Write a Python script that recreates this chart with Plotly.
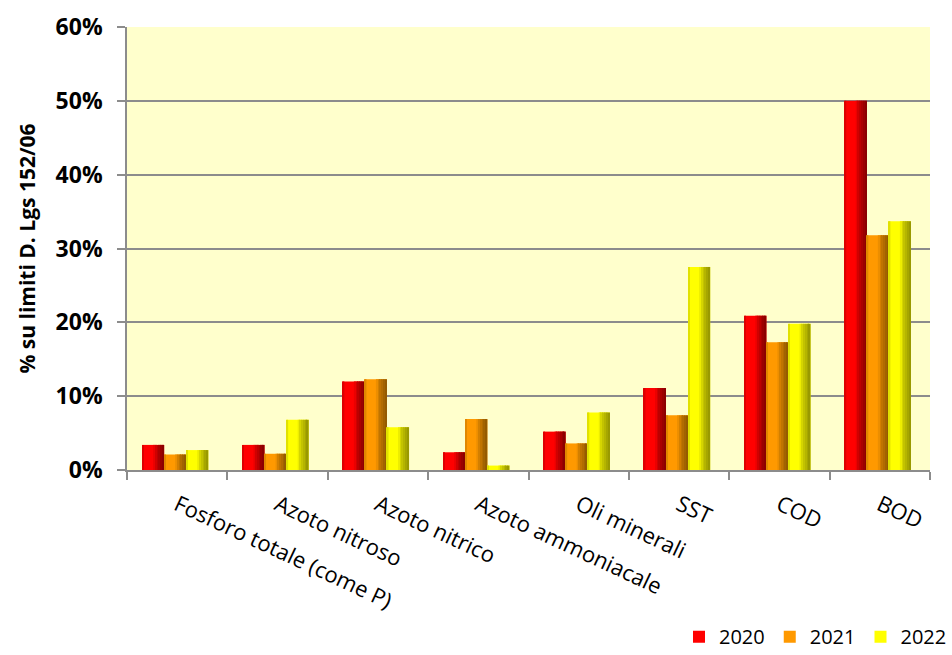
import plotly.graph_objects as go

# Parameters (share of D.Lgs 152/06 limits) by year
categories = [
    "Fosforo totale (come P)",
    "Azoto nitroso",
    "Azoto nitrico",
    "Azoto ammoniacale",
    "Oli minerali",
    "SST",
    "COD",
    "BOD",
]
years = ["2020", "2021", "2022"]
v2020 = [0.034, 0.034, 0.120, 0.024, 0.052, 0.111, 0.209, 0.500]
v2021 = [0.021, 0.022, 0.123, 0.069, 0.036, 0.074, 0.173, 0.318]
v2022 = [0.027, 0.068, 0.058, 0.006, 0.078, 0.275, 0.198, 0.337]
y_ticks = [0, 0.1, 0.2, 0.3, 0.4, 0.5, 0.6]

series = [v2020, v2021, v2022]
# bright face colour and shaded edge colour of each year
bright = [(255, 0, 0), (255, 153, 0), (255, 255, 0)]
dark = [(120, 0, 0), (130, 80, 0), (135, 135, 0)]

BAR_W = 0.22
OFFSETS = [-0.35, -0.13, 0.09]

# vertical strips giving each bar a cylinder-like shading: (start, width, mix toward dark)
STRIPS = [
    (0.00, 0.07, 0.25),
    (0.50, 0.10, 0.15),
    (0.60, 0.08, 0.35),
    (0.68, 0.08, 0.50),
    (0.76, 0.08, 0.62),
    (0.84, 0.08, 0.74),
    (0.92, 0.08, 0.85),
]


def mix(c1, c2, t):
    r, g, b = (round(a + (b_ - a) * t) for a, b_ in zip(c1, c2))
    return f"rgb({r},{g},{b})"


fig = go.Figure()
for i, (year, vals) in enumerate(zip(years, series)):
    fig.add_trace(go.Bar(
        x=categories, y=vals, name=year,
        offset=OFFSETS[i], width=BAR_W,
        marker=dict(color=mix(bright[i], dark[i], 0.0), line=dict(width=0)),
        legendgroup=year, showlegend=True,
    ))
    for start, frac, t in STRIPS:
        fig.add_trace(go.Bar(
            x=categories, y=vals, name=year,
            offset=OFFSETS[i] + start * BAR_W, width=frac * BAR_W,
            marker=dict(color=mix(bright[i], dark[i], t), line=dict(width=0)),
            legendgroup=year, showlegend=False, hoverinfo="skip",
        ))

FONT = "Open Sans, sans-serif"
GRID = "#8c8c8c"

fig.update_layout(
    width=952, height=655,
    margin=dict(l=127, r=22, t=27, b=185, autoexpand=False),
    paper_bgcolor="white",
    plot_bgcolor="#ffffcc",
    barmode="overlay",
    font=dict(family=FONT, color="black"),
    legend=dict(
        orientation="h",
        xref="container", yref="container",
        x=1.0, xanchor="right",
        y=0.028, yanchor="middle",
        font=dict(size=20, family=FONT),
        traceorder="normal",
        itemwidth=30,
    ),
    xaxis=dict(
        type="category",
        tickangle=25,
        ticks="outside", tickson="boundaries", ticklen=8,
        tickcolor=GRID, tickwidth=1.5,
        showline=True, linecolor=GRID, linewidth=1.5,
        showgrid=False,
        tickfont=dict(size=22, family=FONT),
        ticklabelstandoff=12,
        range=[-0.5, 7.5],
        automargin=False,
    ),
    yaxis=dict(
        range=[0, 0.6],
        tickvals=y_ticks,
        tickformat=".0%",
        ticks="outside", ticklen=8,
        tickcolor=GRID, tickwidth=1.5,
        showline=True, linecolor=GRID, linewidth=1.5,
        showgrid=True, gridcolor=GRID, gridwidth=1.5,
        zeroline=False,
        tickfont=dict(size=23, family=FONT, weight="bold"),
        ticklabelstandoff=10,
        automargin=False,
        title=dict(text="% su limiti D. Lgs 152/06",
                   font=dict(size=21, family=FONT, weight="bold"),
                   standoff=14),
    ),
)

fig.write_html("out.html")
